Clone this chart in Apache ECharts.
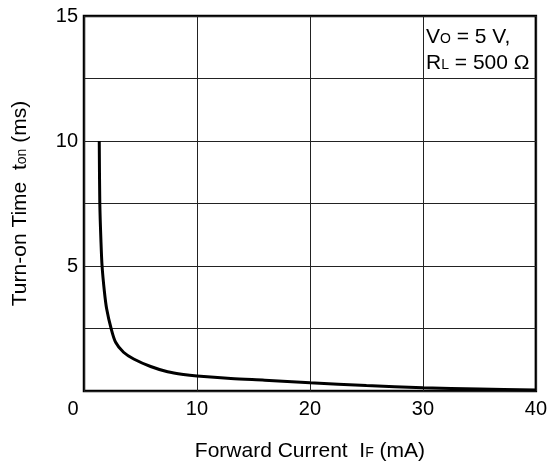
<!DOCTYPE html>
<html>
<head>
<meta charset="utf-8">
<script src="https://cdn.jsdelivr.net/npm/echarts@6/dist/echarts.min.js"></script>
<style>
  html, body { margin: 0; padding: 0; background: #fff; }
  #chart { width: 550px; height: 468px; }
</style>
</head>
<body>
<div id="chart"></div>
<script>
// forward current (mA) vs turn-on time (ms)
const currentIF = [1.35, 1.4, 1.5, 1.6, 1.8, 2.0, 2.4, 2.8, 3.5, 4.4, 5.9, 7.4, 8.8, 10, 13, 16, 20, 25, 30, 35, 40];
const turnOnTime = [10, 7.5, 6.0, 5.0, 4.0, 3.3, 2.5, 1.95, 1.55, 1.28, 0.98, 0.77, 0.66, 0.6, 0.5, 0.43, 0.33, 0.22, 0.13, 0.08, 0.04];
const noteLines = ['V{s|O} = 5 V,', 'R{s|L} = 500 Ω'];

const font = '"Liberation Sans", Arial, sans-serif';
// small letters sitting on the baseline, like the datasheet's subscripts
const sub = { fontFamily: font, fontSize: 14, color: '#000', verticalAlign: 'middle', padding: [5, 0, 0, 0] };
const chart = echarts.init(document.getElementById('chart'), null, { renderer: 'canvas' });

const option = {
  animation: false,
  grid: {
    left: 83, right: 13, top: 16, bottom: 74,
    show: true, borderColor: '#000', borderWidth: 2.5, backgroundColor: 'transparent'
  },
  xAxis: {
    type: 'value', min: 0, max: 40, interval: 10,
    name: 'Forward Current  I{s|F} (mA)',
    nameLocation: 'middle', nameGap: 48,
    nameTextStyle: { fontFamily: font, fontSize: 21, lineHeight: 24, color: '#000', rich: { s: sub } },
    axisLine: { show: false },
    axisTick: { show: false },
    axisLabel: {
      fontFamily: font, fontSize: 20, color: '#000', margin: 8,
      formatter: v => v === 0 ? '{z|0}' : String(v),
      rich: { z: { fontFamily: font, fontSize: 20, color: '#000', padding: [0, 22, 0, 0] } }
    },
    splitLine: { show: true, lineStyle: { color: '#222', width: 1 } }
  },
  yAxis: {
    type: 'value', min: 0, max: 15, interval: 2.5,
    name: 'Turn-on Time  t{s|on} (ms)',
    nameLocation: 'middle', nameGap: 52,
    nameTextStyle: { fontFamily: font, fontSize: 21, lineHeight: 24, color: '#000', rich: { s: sub } },
    axisLine: { show: false },
    axisTick: { show: false },
    axisLabel: {
      fontFamily: font, fontSize: 20, color: '#000', margin: 6,
      formatter: v => (v !== 0 && v % 5 === 0) ? String(v) : ''
    },
    splitLine: { show: true, lineStyle: { color: '#222', width: 1 } }
  },
  graphic: [{
    type: 'text', left: 426, top: 24,
    style: {
      text: noteLines.join('\n'),
      fontFamily: font, fontSize: 21, fill: '#000', lineHeight: 26,
      rich: { s: { fontFamily: font, fontSize: 14, fill: '#000', verticalAlign: 'middle', padding: [5, 0, 0, 0] } }
    }
  }],
  series: [{
    type: 'line',
    data: currentIF.map((x, i) => [x, turnOnTime[i]]),
    showSymbol: false,
    smooth: 0.3,
    lineStyle: { color: '#000', width: 3 }
  }]
};
chart.setOption(option);
</script>
</body>
</html>
